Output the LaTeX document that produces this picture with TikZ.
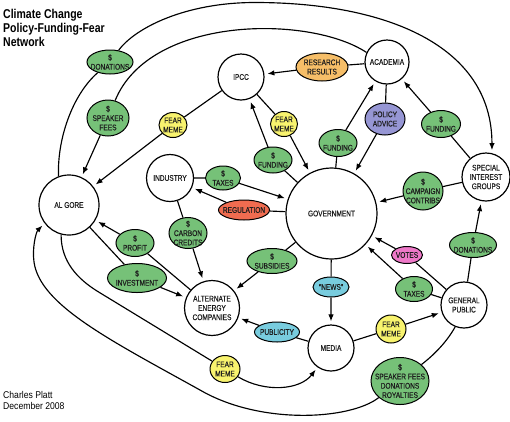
\documentclass[tikz,border=0pt]{standalone}
\usepackage{fontspec}
\usetikzlibrary{shapes.geometric,arrows.meta}
\newfontfamily\condf[FakeStretch=0.8,FakeBold=0.4]{Liberation Sans}
\newfontfamily\titlef[FakeStretch=0.82]{Liberation Sans}
\newfontfamily\credf[FakeStretch=0.88]{Liberation Sans}
\definecolor{cgreen}{RGB}{118,193,120}
\definecolor{cyellow}{RGB}{248,243,110}
\definecolor{corange}{RGB}{246,190,104}
\definecolor{cpurple}{RGB}{150,150,212}
\definecolor{cred}{RGB}{240,108,80}
\definecolor{ccyan}{RGB}{120,204,222}
\definecolor{cpink}{RGB}{238,120,200}
\definecolor{ink}{RGB}{30,30,30}
\tikzset{
  circ/.style={circle, draw=black, fill=white, line width=1.2pt, inner sep=0pt,
    align=center, text=ink, font=\condf\fontsize{8.2}{9.3}\selectfont},
  lab/.style={ellipse, draw=black, line width=1pt, inner sep=0pt},
  labtxt/.style={align=center, inner sep=0pt, text=ink, font=\condf\fontsize{8.2}{9.3}\selectfont},
  arr/.style={draw=black, line width=1.15pt, -{Latex[length=7pt,width=5.5pt]}, shorten >=3pt},
}
\newcommand\Lab[6]{%
  \node[lab,fill=#3,minimum width=#4pt,minimum height=#5pt] (#1) at (#2) {};
  \node[labtxt] (#1t) at (#1.center) {#6};}
\begin{document}
\begin{tikzpicture}[x=1pt,y=-1pt]
\useasboundingbox (0,0) rectangle (510,421);
% titles
\node[anchor=base west, inner sep=0, font=\titlef\bfseries\fontsize{12.8}{14}\selectfont] (t1) at (3,18.3) {Climate Change};
\node[anchor=base west, inner sep=0, font=\titlef\bfseries\fontsize{12.8}{14}\selectfont] (t2) at (3,32.2) {Policy-Funding-Fear};
\node[anchor=base west, inner sep=0, font=\titlef\bfseries\fontsize{12.8}{14}\selectfont] (t3) at (3,46) {Network};
\node[anchor=base west, inner sep=0, font=\credf\fontsize{9.8}{11}\selectfont] (c1) at (3,398.5) {Charles Platt};
\node[anchor=base west, inner sep=0, font=\credf\fontsize{9.8}{11}\selectfont] (c2) at (3,409.5) {December 2008};
% circles
\node[circ, minimum size=60pt] (algore) at (69,205) {AL GORE};
\node[circ, minimum size=46pt] (ipcc) at (241,77) {IPCC};
\node[circ, minimum size=44pt] (academia) at (387,62) {ACADEMIA};
\node[circ, minimum size=47pt] (industry) at (170,178) {INDUSTRY};
\node[circ, minimum size=91pt] (gov) at (331.5,213.5) {GOVERNMENT};
\node[circ, minimum size=55pt] (alt) at (212,308) {ALTERNATE\\ENERGY\\COMPANIES};
\node[circ, minimum size=46pt] (media) at (331,348) {MEDIA};
\node[circ, minimum size=46pt] (public) at (464,305) {GENERAL\\PUBLIC};
\node[circ, minimum size=48pt] (sig) at (486,177) {SPECIAL\\INTEREST\\GROUPS};
% labels
\Lab{don1}{110,62}{cgreen}{46}{24}{\$\\DONATIONS}
\Lab{spk}{108,118}{cgreen}{42}{36}{\$\\SPEAKER\\FEES}
\Lab{fear1}{173,125}{cyellow}{28}{25}{FEAR\\MEME}
\Lab{res}{322,67}{corange}{52}{28}{RESEARCH\\RESULTS}
\Lab{fear2}{284,124}{cyellow}{27}{25}{FEAR\\MEME}
\Lab{fund1}{273,160}{cgreen}{38}{26}{\$\\FUNDING}
\Lab{fund2}{338,143}{cgreen}{38}{27}{\$\\FUNDING}
\Lab{pol}{385,119}{cpurple}{40}{32}{POLICY\\ADVICE}
\Lab{fund3}{441,124}{cgreen}{39}{27}{\$\\FUNDING}
\Lab{taxes1}{223,178}{cgreen}{35}{24}{\$\\TAXES}
\Lab{reg}{244,210}{cred}{51}{20}{REGULATION}
\Lab{camp}{423,191}{cgreen}{40}{38}{\$\\CAMPAIGN\\CONTRIBS}
\Lab{carbon}{188,233}{cgreen}{38}{31}{\$\\CARBON\\CREDITS}
\Lab{subs}{272,261}{cgreen}{50}{25}{\$\\SUBSIDIES}
\Lab{profit}{135,243}{cgreen}{38}{27}{\$\\PROFIT}
\Lab{invest}{137,278}{cgreen}{59}{29}{\$\\INVESTMENT}
\Lab{news}{331,287}{ccyan}{36}{20}{“NEWS”}
\Lab{publ}{277,332}{ccyan}{45}{20}{PUBLICITY}
\Lab{fear3}{391,329}{cyellow}{30}{28}{FEAR\\MEME}
\Lab{votes}{407,255}{cpink}{31}{17}{VOTES}
\Lab{taxes2}{414,289}{cgreen}{37}{25}{\$\\TAXES}
\Lab{don2}{473,245}{cgreen}{47}{25}{\$\\DONATIONS}
\Lab{sfdr}{400,381}{cgreen}{58}{47}{\$\\SPEAKER FEES\\DONATIONS\\ROYALTIES}
\Lab{fear4}{225,369}{cyellow}{30}{27}{FEAR\\MEME}
% helper coordinates
\coordinate (ot) at (255,2.5);
\coordinate (ob2) at (200,390);
\coordinate (ob4) at (34,262);
\coordinate (ib1) at (97,291);
% curved connectors
\draw[arr] (algore.110) .. controls (57,140) and (72,95) .. (don1)
  .. controls (135,28) and (185,2.5) .. (ot)
  .. controls (385,2.5) and (492,45) .. (sig.76);
\draw[arr] (academia.155) .. controls (310,15) and (150,15) .. (spk) -- (algore);
\draw[arr] (public.-112) .. controls (445,345) and (430,358) .. (sfdr)
  .. controls (350,420) and (260,425) .. (ob2)
  .. controls (110,340) and (40,305) .. (ob4)
  .. controls (32,248) and (36,232) .. (algore.-143);
\draw[arr] (algore.-105) .. controls (61,262) and (78,279) .. (ib1) -- (fear4)
  .. controls (265,393) and (300,390) .. (media.-125);
% straight connectors
\draw[arr] (ipcc) -- (fear1) -- (algore);
\draw[arr] (academia) -- (res) -- (ipcc);
\draw[arr] (ipcc) -- (fear2) -- (gov);
\draw[arr] (gov) -- (fund1) -- (ipcc);
\draw[arr] (gov) -- (fund2) -- (academia);
\draw[arr] (academia) -- (pol) -- (gov);
\draw[arr] (sig) -- (fund3) -- (academia);
\draw[arr] (industry) -- (taxes1) -- (gov);
\draw[arr] (gov) -- (reg) -- (industry);
\draw[arr] (sig) -- (camp) -- (gov);
\draw[arr] (industry) -- (carbon) -- (alt);
\draw[arr] (gov) -- (subs) -- (alt);
\draw[arr] (alt) -- (profit) -- (algore);
\draw[arr] (algore) -- (invest) -- (alt);
\draw[arr] (gov) -- (news) -- (media);
\draw[arr] (media) -- (publ) -- (alt);
\draw[arr] (media) -- (fear3) -- (public);
\draw[arr] (public) -- (votes) -- (gov);
\draw[arr] (public) -- (taxes2) -- (gov);
\draw[arr] (public) -- (don2) -- (sig);
\end{tikzpicture}
\end{document}
